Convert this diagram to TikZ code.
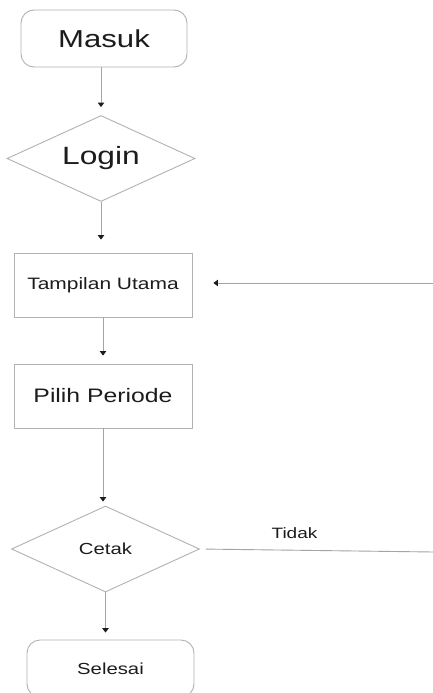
\documentclass[tikz,border=0pt]{standalone}
\usepackage{fontspec}
\setmainfont{Liberation Sans}
\usetikzlibrary{shapes.geometric,arrows.meta}
% labels are set slightly widened
\newcommand\widetext[1]{\scalebox{1.27}[1]{#1}}
\definecolor{edgegray}{HTML}{A4A4A4}
\definecolor{boxgray}{HTML}{B2B2B2}
\definecolor{ink}{HTML}{1C1C1C}
\tikzset{
  base/.style={draw=boxgray, line width=0.9pt, text=ink, inner sep=0pt},
  term/.style={base, rounded corners=13pt, minimum width=166pt, minimum height=57pt},
  proc/.style={base, minimum width=178pt, minimum height=64pt},
  decide/.style={base, diamond, aspect=2.2, minimum width=188pt, minimum height=86pt},
  fs/.style={font=\fontsize{#1}{#1}\selectfont},
  flow/.style={draw=edgegray, line width=0.9pt,
    -{Triangle[length=4.5pt,width=6.5pt,color=ink]}},
  plain/.style={draw=edgegray, line width=0.9pt}
}
\begin{document}
\begin{tikzpicture}[x=1pt,y=-1pt]
  \useasboundingbox (0,0) rectangle (433,693);
  \fill[white] (0,0) rectangle (433,693);

  % flowchart steps
  \node[term, fs=24.5pt]   (masuk)   at (104,38.5)  {\widetext{Masuk}};
  \node[decide, fs=25pt]   (login)   at (101,158.5) {\widetext{Login}};
  \node[proc, fs=16.5pt]   (tampil)  at (103,285)   {\widetext{Tampilan Utama}};
  \node[proc, fs=19.5pt]   (pilih)   at (103,396)   {\widetext{Pilih Periode}};
  \node[decide, fs=16pt]   (cetak)   at (105.5,549) {\widetext{Cetak}};
  \node[term, minimum width=167pt, fs=16pt] (selesai) at (110.5,668.5) {\widetext{Selesai}};

  % ends of the loop back to the main screen
  \coordinate (loopout) at (433.5,552);
  \coordinate (loopin)  at (433.5,283);

  % connectors
  \draw[flow, shorten >=8pt]  (masuk.south -| login.north) -- (login.north);
  \draw[flow, shorten >=13pt] (login.south) -- (tampil.north -| login.south);
  \draw[flow, shorten >=8pt]  (tampil.south) -- (pilih.north);
  \draw[flow, shorten >=4pt]  (pilih.south) -- (cetak.north -| pilih.south);
  \draw[flow, shorten >=7pt]  (cetak.south) -- (selesai.north -| cetak.south);
  \draw[plain, shorten <=6pt] (cetak.east) -- (loopout);
  \draw[flow, shorten >=21pt] (loopin) -- (tampil.east |- loopin);

  \node[text=ink, fs=15pt] (tidak) at (294.5,533.5) {\widetext{Tidak}};
\end{tikzpicture}
\end{document}
